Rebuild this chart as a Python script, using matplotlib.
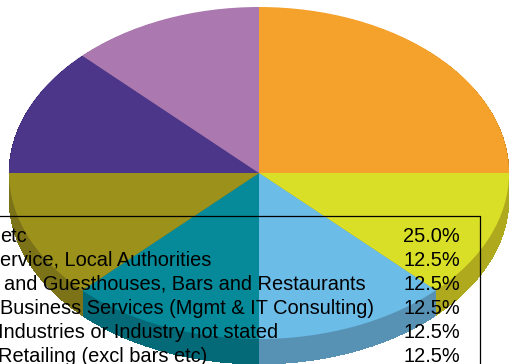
import matplotlib
matplotlib.use("Agg")
import matplotlib.pyplot as plt

plt.rcParams['font.family'] = ['Liberation Sans', 'DejaVu Sans']

# only the part of each label that is visible in the picture (box is cut off on the left)
labels = ["etc",
          "ervice, Local Authorities",
          "and Guesthouses, Bars and Restaurants",
          "Business Services (Mgmt & IT Consulting)",
          "Industries or Industry not stated",
          "Retailing (excl bars etc)"]
shares = [25.0, 12.5, 12.5, 12.5, 12.5, 12.5]

# the last two slices have no visible row in the table
slices = [25.0, 12.5, 12.5, 12.5, 12.5, 12.5, 12.5]
top_colors = ["#f5a22d", "#d9df27", "#6cbce8", "#068a9a", "#9c911b", "#4b368a", "#ab78b0"]
side_colors = ["#b87a22", "#afa91e", "#5792b5", "#046a78", "#7c7318", "#382868", "#805a84"]

W, H = 509, 364
cx, cy = 259, 173
rx, ry = 250, 166
depth = 25

fig = plt.figure(figsize=(W / 100, H / 100), dpi=100)
ax = fig.add_axes([0, 0, 1, 1])

# side of the pie, stacked copies going up to the top face
for d in range(depth, 0, -1):
    ax.pie(slices, colors=side_colors, startangle=90, counterclock=False,
           center=(0, -d / ry), wedgeprops={"linewidth": 0, "antialiased": False})
ax.pie(slices, colors=top_colors, startangle=90, counterclock=False,
       center=(0, 0), wedgeprops={"linewidth": 0})

ax.set_aspect('auto')
ax.set_xlim(-cx / rx, (W - cx) / rx)
ax.set_ylim(-(H - cy) / ry, cy / ry)
ax.axis('off')


def fx(x):
    return x / W


def fy(y):
    return 1 - y / H


# table outline
fig.add_artist(plt.Line2D([fx(0), fx(480), fx(480)], [fy(216), fy(216), fy(H)],
                          color="black", linewidth=0.9))

row_y = [234.5, 258.5, 282.5, 306.5, 330.5, 354.5]
text_x = [0, 0, 4, 0, -2, -2]
for i in range(len(labels)):
    fig.text(fx(text_x[i]), fy(row_y[i]), labels[i], fontsize=14.4, color="black",
             ha="left", va="center_baseline")
    fig.text(fx(460), fy(row_y[i]), "%.1f%%" % shares[i], fontsize=14.4, color="black",
             ha="right", va="center_baseline")

fig.savefig("out.png", dpi=100)
